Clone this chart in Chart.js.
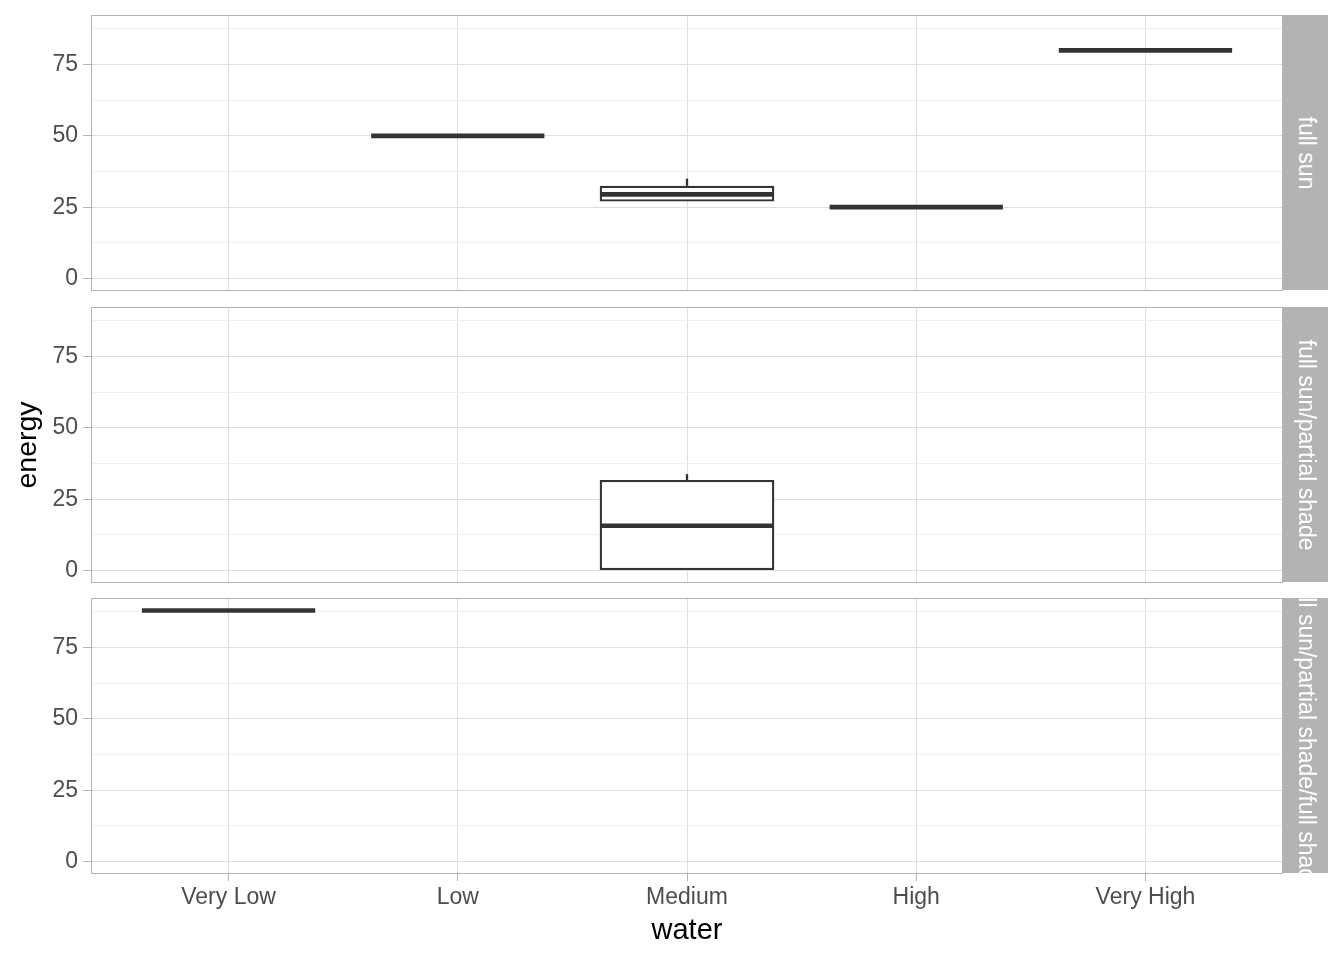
<!DOCTYPE html>
<html>
<head>
<meta charset="utf-8">
<script src="https://cdn.jsdelivr.net/npm/chart.js@4.4.1/dist/chart.umd.min.js"></script>
<style>
  html, body { margin: 0; padding: 0; background: #ffffff; }
  #wrap { position: relative; width: 1344px; height: 960px; overflow: hidden; font-family: "Liberation Sans", Arial, sans-serif; }
  .cv { position: absolute; left: 0; }
  .strip { position: absolute; left: 1283px; width: 45px; background: #B3B3B3; overflow: hidden; }
  .strip span { position: absolute; left: 50%; top: 50%; transform: translate(-50%, -50%) rotate(90deg); white-space: nowrap; color: #FFFFFF; font-size: 23px; font-family: "Liberation Sans", Arial, sans-serif; }
</style>
</head>
<body>
<div id="wrap">
  <canvas id="c0" class="cv"></canvas>
  <canvas id="c1" class="cv"></canvas>
  <canvas id="c2" class="cv"></canvas>
  <div class="strip" id="s0"><span>full sun</span></div>
  <div class="strip" id="s1"><span>full sun/partial shade</span></div>
  <div class="strip" id="s2"><span>full sun/partial shade/full shade</span></div>
</div>
<script>
// ---- DATA ----
const categories = ["Very Low", "Low", "Medium", "High", "Very High"];
const panels = ["full sun", "full sun/partial shade", "full sun/partial shade/full shade"];
const yTickLabels = [0, 25, 50, 75];
// box statistics per panel, one entry per category (null = no data)
const fullSunMin    = [null, 50, 27,   25, 80];
const fullSunQ1     = [null, 50, 27,   25, 80];
const fullSunMedian = [null, 50, 29.5, 25, 80];
const fullSunQ3     = [null, 50, 32.5, 25, 80];
const fullSunMax    = [null, 50, 35,   25, 80];

const partialMin    = [null, null, 0,    null, null];
const partialQ1     = [null, null, 0,    null, null];
const partialMedian = [null, null, 15.7, null, null];
const partialQ3     = [null, null, 31.7, null, null];
const partialMax    = [null, null, 33.8, null, null];

const shadeMin      = [88, null, null, null, null];
const shadeQ1       = [88, null, null, null, null];
const shadeMedian   = [88, null, null, null, null];
const shadeQ3       = [88, null, null, null, null];
const shadeMax      = [88, null, null, null, null];

const panelStats = [
  { min: fullSunMin, q1: fullSunQ1, med: fullSunMedian, q3: fullSunQ3, max: fullSunMax },
  { min: partialMin, q1: partialQ1, med: partialMedian, q3: partialQ3, max: partialMax },
  { min: shadeMin,   q1: shadeQ1,   med: shadeMedian,   q3: shadeQ3,   max: shadeMax }
];

// ---- LAYOUT ----
const W = 1344;
const plotLeft = 91, plotRight = 1283;
const panelTops = [15, 307, 598];
const panelH = 276;
const PAD = 3;
const HALF = 0.378;           // half box width in category units
const Y_MIN = -4.4, Y_MAX = 92.4;
const DARK = '#333333';
const FONT = "'Liberation Sans', Arial, sans-serif";

const panelBorder = {
  id: 'panelBorder',
  afterDraw(chart) {
    const a = chart.chartArea, c = chart.ctx;
    c.save();
    c.strokeStyle = '#B3B3B3';
    c.lineWidth = 1;
    c.strokeRect(Math.round(a.left) + 0.5, Math.round(a.top) + 0.5, Math.round(a.right - a.left) - 1, Math.round(a.bottom - a.top) - 1);
    c.restore();
  }
};

function buildDatasets(st) {
  const boxes = [], whiskers = [], medians = [];
  categories.forEach((c, i) => {
    const x = i + 1;
    if (st.med[i] === null) return;
    boxes.push({ x: x, y: [st.q1[i], st.q3[i]] });
    if (st.max[i] > st.q3[i]) {
      whiskers.push({ x: x, y: st.q3[i] }, { x: x, y: st.max[i] }, { x: x + 0.5, y: null });
    }
    if (st.min[i] < st.q1[i]) {
      whiskers.push({ x: x, y: st.min[i] }, { x: x, y: st.q1[i] }, { x: x + 0.5, y: null });
    }
    medians.push({ x: x - HALF, y: st.med[i] }, { x: x + HALF, y: st.med[i] }, { x: x + 0.5, y: null });
  });
  return [
    { type: 'bar', data: boxes, backgroundColor: '#FFFFFF', borderColor: DARK, borderWidth: 2.3,
      borderSkipped: false, grouped: false, barPercentage: 0.762, categoryPercentage: 1, order: 3 },
    { type: 'line', data: whiskers, borderColor: DARK, borderWidth: 2.3, pointRadius: 0,
      spanGaps: false, order: 2, borderCapStyle: 'butt' },
    { type: 'line', data: medians, borderColor: DARK, borderWidth: 4.6, pointRadius: 0,
      spanGaps: false, order: 1, borderCapStyle: 'butt' }
  ];
}

function makeChart(idx) {
  const isBottom = idx === 2;
  const isMiddle = idx === 1;
  const canvas = document.getElementById('c' + idx);
  const top = panelTops[idx] - PAD;
  const h = isBottom ? (960 - top) : (panelH + 2 * PAD);
  canvas.style.top = top + 'px';
  canvas.style.width = W + 'px';
  canvas.style.height = h + 'px';
  canvas.width = W; canvas.height = h;
  const xAxisH = isBottom ? (h - PAD - panelH) : PAD;

  const strip = document.getElementById('s' + idx);
  strip.style.top = panelTops[idx] + 'px';
  strip.style.height = (panelH - 1) + 'px';

  new Chart(canvas, {
    type: 'bar',
    data: { datasets: buildDatasets(panelStats[idx]) },
    plugins: [panelBorder],
    options: {
      responsive: false,
      animation: false,
      layout: { padding: { left: 0, right: W - plotRight, top: PAD, bottom: 0 } },
      plugins: { legend: { display: false }, tooltip: { enabled: false } },
      scales: {
        x: {
          type: 'linear',
          min: 0.4, max: 5.6,
          offset: false,
          afterBuildTicks(s) { s.ticks = categories.map((c, i) => ({ value: i + 1 })); },
          afterFit(s) { s.height = xAxisH; s.paddingLeft = 0; s.paddingRight = 0; },
          border: { display: false },
          grid: {
            offset: false,
            color: '#DEDEDE', lineWidth: 1,
            drawTicks: isBottom, tickLength: 7, tickColor: '#B3B3B3'
          },
          ticks: {
            display: isBottom,
            autoSkip: false, maxRotation: 0,
            padding: 3,
            color: '#4D4D4D',
            font: { family: FONT, size: 23 },
            callback: (v) => categories[Math.round(v) - 1]
          },
          title: {
            display: isBottom, text: 'water', color: '#000000',
            font: { family: FONT, size: 29 }, padding: { top: 0, bottom: 12 }
          }
        },
        y: {
          type: 'linear',
          min: Y_MIN, max: Y_MAX,
          afterBuildTicks(s) {
            const t = [];
            for (let v = 0; v <= 87.5; v += 12.5) t.push({ value: v });
            s.ticks = t;
          },
          afterFit(s) { s.width = plotLeft; s.paddingTop = 0; s.paddingBottom = 0; },
          border: { display: false },
          grid: {
            color: (ctx) => (ctx.tick && yTickLabels.includes(ctx.tick.value)) ? '#DEDEDE' : '#EFEFEF',
            lineWidth: 1,
            drawTicks: true, tickLength: 8,
            tickColor: (ctx) => (ctx.tick && yTickLabels.includes(ctx.tick.value)) ? '#B3B3B3' : 'rgba(0,0,0,0)'
          },
          ticks: {
            autoSkip: false,
            padding: 5,
            color: '#4D4D4D',
            font: { family: FONT, size: 23 },
            callback: (v) => yTickLabels.includes(v) ? String(v) : ''
          },
          title: {
            display: isMiddle, text: 'energy', color: '#000000',
            font: { family: FONT, size: 28.5 }, padding: { top: 11, bottom: 0 }
          }
        }
      }
    }
  });
}

[0, 1, 2].forEach(makeChart);
</script>
</body>
</html>
